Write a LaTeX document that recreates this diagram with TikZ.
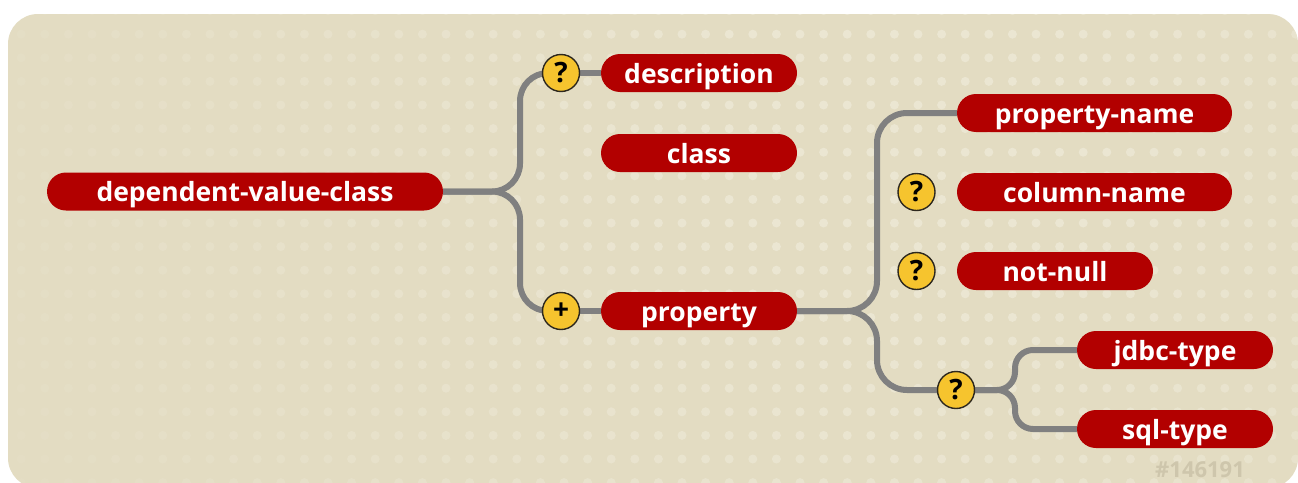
\documentclass[tikz,border=0pt]{standalone}
\usepackage{fontspec}
\setmainfont{Open Sans}
\usepackage{tikz}
\usetikzlibrary{positioning, calc}

\definecolor{bgbeige}{RGB}{227,220,194}
\definecolor{dotbeige}{RGB}{235,230,210}
\definecolor{elemred}{RGB}{178,0,0}
\definecolor{wiregrey}{RGB}{128,128,128}
\definecolor{markyellow}{RGB}{246,196,46}
\definecolor{markline}{RGB}{45,40,30}
\definecolor{stampgrey}{RGB}{206,198,172}

\pgfdeclarelayer{back}
\pgfdeclarelayer{wires}
\pgfsetlayers{back,wires,main}

\begin{document}
\begin{tikzpicture}[x=1pt, y=-1pt,
  elem/.style={rectangle, rounded corners=19pt, fill=elemred, text=white, minimum height=38pt, inner sep=0pt,
    text height=24pt, text depth=4pt, font=\fontsize{26.5}{28}\selectfont\bfseries},
  marker/.style={circle, fill=markyellow, draw=markline, line width=1.4pt, minimum size=37pt, inner sep=0pt,
    font=\fontsize{28}{30}\selectfont\bfseries},
  conn/.style={draw=wiregrey, line width=6pt},
  stamp/.style={text=stampgrey, font=\fontsize{22}{24}\selectfont\bfseries}
]
  \useasboundingbox (0,0) rectangle (1298,482);

  % Root element
  \node[elem, minimum width=396pt] (root) at (245,191.5) {dependent-value-class};

  % First level children
  \node[marker] (optdesc) at (561,73) {?};
  \node[elem, minimum width=196pt] (desc) at (699,73) {description};
  \node[elem, minimum width=196pt] (cls) at (699,153) {class};
  \node[marker] (multprop) at (561,311) {+};
  \node[elem, minimum width=196pt] (prop) at (699,311) {property};

  % Children of property
  \node[elem, minimum width=275pt] (pname) at (1094.5,113) {property-name};
  \node[marker] (optcol) at (916.5,192) {?};
  \node[elem, minimum width=275pt] (colname) at (1094.5,192) {column-name};
  \node[marker] (optnull) at (916.5,271) {?};
  \node[elem, minimum width=196pt] (notnull) at (1055,271) {not-null};
  \node[marker] (opttype) at (956,390) {?};
  \node[elem, minimum width=196pt] (jdbc) at (1175,350) {jdbc-type};
  \node[elem, minimum width=196pt] (sqltype) at (1175,429) {sql-type};

  \node[stamp] (stampid) at (1200,470) {\#146191};

  % Connectors
  \begin{pgfonlayer}{wires}
    \draw[conn, rounded corners=28pt] (root.east) -- (520,191.5) -- (520,73) -- (optdesc.center);
    \draw[conn, rounded corners=28pt] (root.east) -- (520,191.5) -- (520,311) -- (multprop.center);
    \draw[conn] (optdesc) -- (desc);
    \draw[conn] (multprop) -- (prop);
    \draw[conn, rounded corners=30pt] (prop.east) -- (877,311) -- (877,113) -- (pname.west);
    \draw[conn, rounded corners=30pt] (prop.east) -- (877,311) -- (877,390) -- (opttype.center);
    \draw[conn, rounded corners=18pt] (opttype.center) -- (1015,390) -- (1015,350) -- (jdbc.west);
    \draw[conn, rounded corners=18pt] (opttype.center) -- (1015,390) -- (1015,429) -- (sqltype.west);
  \end{pgfonlayer}

  % Background panel with dots
  \begin{pgfonlayer}{back}
    \fill[white] (0,0) rectangle (1298,482);
    \fill[bgbeige, rounded corners=30pt] (8,14) rectangle (1298,488);
    \begin{scope}
      \clip[rounded corners=30pt] (8,14) rectangle (1298,488);
      \foreach \i in {0,...,54}{
        \foreach \j in {0,...,20}{
          \pgfmathsetmacro\dx{21.2+23.6*\i}
          \pgfmathsetmacro\dy{10.6+23.6*\j}
          \pgfmathsetmacro\op{max(0,min(1,1.25-veclen((\dx-900)/100,(\dy-150)/100)/8.5))}
          \fill[dotbeige, opacity=\op] (\dx,\dy) circle (4.5pt);
        }
      }
    \end{scope}
  \end{pgfonlayer}
\end{tikzpicture}
\end{document}
